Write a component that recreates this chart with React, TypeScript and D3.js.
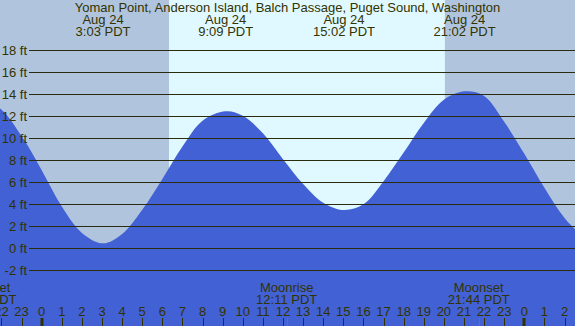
import React from "react";
import * as d3 from "d3";

const W = 575;
const H = 326;

// Tide heights (ft), hours relative to Aug 24 00:00
const tideHours = [-3, -2, -1, 0, 1, 2, 3.05, 4, 5, 6, 7, 8, 9.15, 10, 11, 12, 13, 14, 15.033, 16, 17, 18, 19, 20, 21.033, 22, 23, 24, 25, 26, 27];
const tideFeet = [13.6, 12.6, 10.2, 7.1, 3.8, 1.4, 0.45, 1.3, 3.5, 6.3, 9.25, 11.6, 12.45, 12.05, 10.45, 8.1, 5.85, 4.15, 3.48, 4.0, 6.1, 8.7, 11.4, 13.5, 14.27, 13.85, 11.5, 8.6, 5.5, 2.75, 0.9];

// Extremes shown at the top
const extremeHours = [3.05, 9.15, 15.033, 21.033];
const extremeDates = ["Aug 24", "Aug 24", "Aug 24", "Aug 24"];
const extremeTimes = ["3:03 PDT", "9:09 PDT", "15:02 PDT", "21:02 PDT"];

// Moon events shown at the bottom
const moonHours = [-2.8, 12.183, 21.733];
const moonNames = ["Moonset", "Moonrise", "Moonset"];
const moonTimes = ["21:12 PDT", "12:11 PDT", "21:44 PDT"];

const sunriseHour = 6.33;
const sunsetHour = 20.05;

const yTicks = [-2, 0, 2, 4, 6, 8, 10, 12, 14, 16, 18];
const hourTicks = d3.range(-2, 27);

const title = "Yoman Point, Anderson Island, Balch Passage, Puget Sound, Washington";

const FONT = "'Liberation Sans', Arial, sans-serif";
const TEXT = "#333300";
const NIGHT = "#b0c4de";
const DAY = "#e0f8ff";
const FILL = "#4161d5";

export default function App() {
  const x = d3.scaleLinear().domain([0, 24]).range([41.7, 524.3]);
  const y = d3.scaleLinear().domain([0, 18]).range([248.3, 50.3]);

  const pts = tideHours.map((h, i) => [h, tideFeet[i]] as [number, number]);
  const area = d3
    .area<[number, number]>()
    .x((d) => x(d[0]))
    .y0(H)
    .y1((d) => y(d[1]))
    .curve(d3.curveCatmullRom.alpha(0.5));

  return (
    <svg
      width={W}
      height={H}
      style={{ position: "fixed", left: 0, top: 0 }}
      fontFamily={FONT}
      fontSize={13}
    >
      <rect x={0} y={0} width={W} height={H} fill={NIGHT} />
      <rect x={x(sunriseHour)} y={0} width={x(sunsetHour) - x(sunriseHour)} height={H} fill={DAY} />
      <path d={area(pts) || ""} fill={FILL} />
      {yTicks.map((t) => (
        <g key={t}>
          <line x1={29} x2={W} y1={Math.round(y(t)) + 0.5} y2={Math.round(y(t)) + 0.5} stroke="#2b2b10" strokeWidth={1} />
          <text x={27} y={y(t) + 4.5} textAnchor="end" fill={TEXT}>
            {t} ft
          </text>
        </g>
      ))}
      <text x={W / 2} y={12} textAnchor="middle" fill={TEXT}>
        {title}
      </text>
      {extremeHours.map((h, i) => (
        <g key={i}>
          <text x={x(h)} y={24} textAnchor="middle" fill={TEXT}>
            {extremeDates[i]}
          </text>
          <text x={x(h)} y={36} textAnchor="middle" fill={TEXT}>
            {extremeTimes[i]}
          </text>
        </g>
      ))}
      {moonHours.map((h, i) => (
        <g key={i}>
          <text x={x(h)} y={291.5} textAnchor="middle" fill={TEXT}>
            {moonNames[i]}
          </text>
          <text x={x(h)} y={303.5} textAnchor="middle" fill={TEXT}>
            {moonTimes[i]}
          </text>
        </g>
      ))}
      {hourTicks.map((h) => {
        const isMidnight = h % 24 === 0;
        return (
          <g key={h}>
            <text x={x(h)} y={315.5} textAnchor="middle" fill={TEXT}>
              {((h % 24) + 24) % 24}
            </text>
            <line
              x1={Math.round(x(h)) + (isMidnight ? 0 : 0.5)}
              x2={Math.round(x(h)) + (isMidnight ? 0 : 0.5)}
              y1={318}
              y2={H}
              stroke={TEXT}
              strokeWidth={isMidnight ? 3 : 1}
            />
          </g>
        );
      })}
      {moonHours.map((h, i) => (
        <line
          key={"m" + i}
          x1={Math.round(x(h)) + 0.5}
          x2={Math.round(x(h)) + 0.5}
          y1={318}
          y2={H}
          stroke="#a0642d"
          strokeWidth={1}
        />
      ))}
    </svg>
  );
}
